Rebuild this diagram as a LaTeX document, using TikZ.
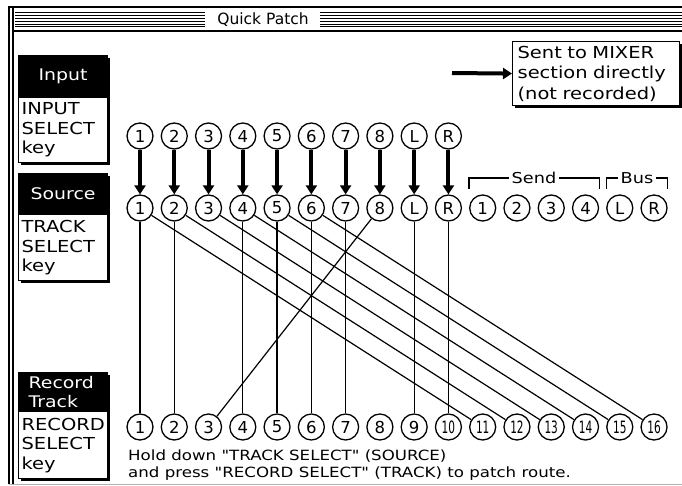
\documentclass[tikz,border=0pt]{standalone}
\usepackage{fontspec}
\setmainfont{DejaVu Sans}
\newfontfamily\pix[FakeStretch=1.18]{DejaVu Sans}
\newfontfamily\pixnarrow[FakeStretch=0.62]{DejaVu Sans}
\usetikzlibrary{arrows.meta, positioning, shadows}

\begin{document}
\begin{tikzpicture}[x=1pt, y=-1pt,
    boxshadow/.style={drop shadow={opacity=1, shadow xshift=2pt, shadow yshift=-2pt, fill=black}},
    port/.style={circle, draw, line width=1.3pt, minimum size=26pt, inner sep=0pt, font=\fontsize{16.5}{16.5}\selectfont},
    twodigit/.style={font=\pixnarrow\fontsize{17}{17}\selectfont},
    feed/.style={line width=4pt, -{Triangle[length=9pt, width=11pt]}},
    patch/.style={line width=1.2pt},
    keyhead/.style={draw, fill=black, text=white, line width=1.2pt, anchor=north west, inner sep=0pt,
      minimum width=89pt, font=\pix\fontsize{16}{19}\selectfont, boxshadow},
    keybody/.style={draw, fill=white, line width=1.2pt, anchor=north west, inner xsep=3pt, inner ysep=0pt,
      text width=83pt, align=left, font=\pix\fontsize{16.5}{19.5}\selectfont, boxshadow},
    bracket/.style={line width=1.2pt},
    tag/.style={fill=white, inner xsep=3pt, inner ysep=0pt, font=\pix\fontsize{15}{15}\selectfont},
    hint/.style={anchor=base west, inner sep=0pt, font=\pix\fontsize{14.1}{17}\selectfont}]

  \fill[white] (0,0) rectangle (682,486);
  \useasboundingbox (0,0) rectangle (682,486);

  % window frame and title bar
  \draw[line width=1.2pt] (682,7) -- (9,7) -- (9,484);
  \draw[line width=1.2pt] (13,7) -- (13,484);
  \draw[line width=1pt, gray!60] (9,484) -- (682,484);
  \draw[line width=1.2pt] (13,31) -- (682,31);
  \foreach \y in {13,15.8,18.6,21.4,24.2,27} {
    \draw[line width=1pt] (15,\y) -- (205,\y);
    \draw[line width=1pt] (320,\y) -- (682,\y);
  }
  \node[font=\fontsize{15.5}{15.5}\selectfont] (title) at (263,20) {Quick Patch};

  % key boxes on the left
  \node[keyhead, minimum height=42pt] (inhead) at (18,55) {Input};
  \node[keybody, minimum height=65pt] (inkey) at (18,97) {INPUT\\SELECT\\key};
  \node[keyhead, minimum height=41pt] (srchead) at (18,173) {Source};
  \node[keybody, minimum height=66pt] (srckey) at (18,214) {TRACK\\SELECT\\key};
  \node[keyhead, minimum height=39pt, minimum width=0pt, text width=69pt, inner xsep=10pt, align=left] (rechead) at (18,372) {Record\\Track};
  \node[keybody, minimum height=67pt] (reckey) at (18,411) {RECORD\\SELECT\\key};

  % legend
  \node[keybody, text width=157pt, inner xsep=5pt, minimum height=64pt, font=\pix\fontsize{16.5}{20.5}\selectfont] (mixer) at (512,41)
    {Sent to MIXER\\section directly\\(not recorded)};
  \coordinate (mixtail) at (452,73);
  \draw[feed] (mixtail) -- (mixer.west);

  % jacks
  \foreach \n [count=\i] in {1,2,3,4,5,6,7,8,L,R} {
    \node[port] (in\n) at ({140+34.27*(\i-1)},136) {\n};
    \node[port] (src\n) at ({140+34.27*(\i-1)},208) {\n};
  }
  \foreach \n [count=\i from 11] in {1,2,3,4}
    \node[port] (send\n) at ({140+34.27*(\i-1)},208) {\n};
  \node[port] (busL) at ({140+34.27*14},208) {L};
  \node[port] (busR) at ({140+34.27*15},208) {R};
  \foreach \i in {1,...,9}
    \node[port] (rec\i) at ({140+34.27*(\i-1)},427) {\i};
  \foreach \i in {10,...,16}
    \node[port, twodigit] (rec\i) at ({140+34.27*(\i-1)},427) {\i};

  % brackets over send and bus
  \draw[bracket] (send1.west |- 0,189) -- (send1.west |- 0,178) -- (send4.east |- 0,178) -- (send4.east |- 0,189);
  \node[tag] (sendlbl) at (534,178) {Send};
  \draw[bracket] (busL.west |- 0,189) -- (busL.west |- 0,178) -- (busR.east |- 0,178) -- (busR.east |- 0,189);
  \node[tag] (buslbl) at (637,178) {Bus};

  % input to source
  \foreach \n in {1,2,3,4,5,6,7,8,L,R}
    \draw[feed] (in\n) -- (src\n);

  % patch routes
  \foreach \s/\r in {1/1,2/2,4/4,5/5,6/6,7/7,L/9,R/10,1/11,2/12,3/13,4/14,5/15,6/16,8/3}
    \draw[patch] (src\s) -- (rec\r);

  \node[hint] (hint1) at (128,460.5) {Hold down "TRACK SELECT" (SOURCE)};
  \node[hint] (hint2) at (128,477.5) {and press "RECORD SELECT" (TRACK) to patch route.};
\end{tikzpicture}
\end{document}
